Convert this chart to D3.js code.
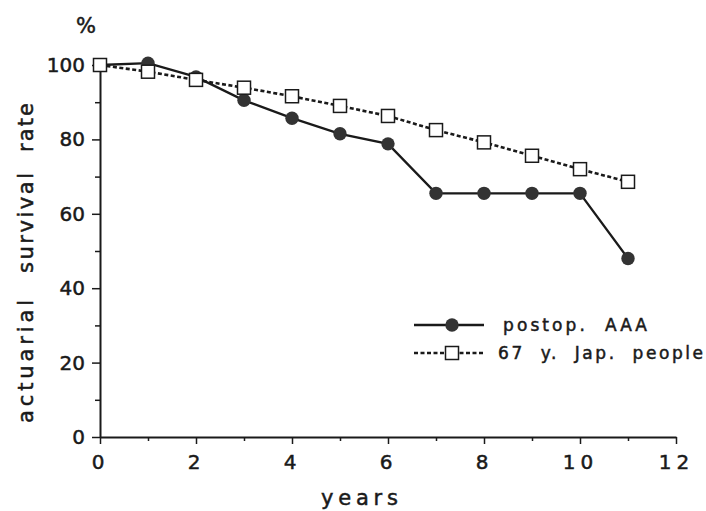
<!DOCTYPE html>
<html>
<head>
<meta charset="utf-8">
<script src="https://cdn.jsdelivr.net/npm/d3@7"></script>
<style>
  html, body { margin: 0; padding: 0; background: #fff; }
  svg { display: block; font-family: "DejaVu Sans", "Liberation Sans", Arial, sans-serif; }
  svg text { stroke: #1a1a1a; stroke-width: 0.5px; }
</style>
</head>
<body>
<svg id="chart" width="706" height="511"></svg>
<script>
// data
const years = [0, 1, 2, 3, 4, 5, 6, 7, 8, 9, 10, 11];
const postopAAA = [100, 100.5, 96.8, 90.5, 85.7, 81.5, 78.8, 65.5, 65.5, 65.5, 65.5, 48];
const japPeople = [100, 98.2, 96, 93.9, 91.6, 89, 86.3, 82.5, 79.2, 75.6, 72, 68.6];
const xTicks = [0, 2, 4, 6, 8, 10, 12];
const xMinor = [1, 3, 5, 7, 9, 11];
const yTicks = [0, 20, 40, 60, 80, 100];
const yMinor = [10, 30, 50, 70, 90];
const yTitleWords = ["actuarial", "survival", "rate"];
const legendLabels = ["postop.  AAA", "67  y.  Jap.  people"];

const svg = d3.select("#chart");
const ink = "#1a1a1a";
const font = "'DejaVu Sans', 'Liberation Sans', Arial, sans-serif";

// scales
const x = d3.scaleLinear().domain([0, 12]).range([100, 676]);
const y = d3.scaleLinear().domain([0, 100]).range([437, 65]);

// axes
const yAxis = svg.append("g")
  .attr("transform", `translate(${x(0)},0)`)
  .call(d3.axisLeft(y).tickValues(yTicks).tickSize(8).tickPadding(7).tickSizeOuter(0));
svg.append("g")
  .attr("transform", `translate(${x(0)},0)`)
  .call(d3.axisLeft(y).tickValues(yMinor).tickSize(5).tickFormat("").tickSizeOuter(0))
  .select(".domain").remove();

const xAxis = svg.append("g")
  .attr("transform", `translate(0,${y(0)})`)
  .call(d3.axisBottom(x).tickValues(xTicks).tickSize(7).tickPadding(10).tickSizeOuter(0));
svg.append("g")
  .attr("transform", `translate(0,${y(0)})`)
  .call(d3.axisBottom(x).tickValues(xMinor).tickSize(4).tickFormat("").tickSizeOuter(0))
  .select(".domain").remove();

svg.selectAll(".domain").attr("stroke", ink).attr("stroke-width", 2);
svg.selectAll(".tick line").attr("stroke", ink).attr("stroke-width", 1.5);
yAxis.selectAll(".tick text").attr("font-size", 20).attr("fill", ink)
  .attr("font-family", font);
xAxis.selectAll(".tick text").attr("font-size", 20).attr("fill", ink)
  .attr("letter-spacing", "5px")
  .attr("dy", "0.75em")
  .attr("font-family", font);

// axis titles
svg.append("text")
  .attr("x", 86).attr("y", 33)
  .attr("text-anchor", "middle")
  .attr("font-size", 21).attr("fill", ink)
  .text("%");

svg.append("text")
  .attr("x", 359.5).attr("y", 505)
  .attr("text-anchor", "middle")
  .attr("textLength", 77).attr("lengthAdjust", "spacing")
  .attr("font-size", 21).attr("fill", ink)
  .text("years");

// y title: three words spread along the axis
const wordSpan = [[300, 423], [173, 273], [103, 152]];
svg.selectAll(".ytitle")
  .data(yTitleWords)
  .enter()
  .append("text")
  .attr("class", "ytitle")
  .attr("transform", (d, i) => `translate(33,${(wordSpan[i][0] + wordSpan[i][1]) / 2}) rotate(-90)`)
  .attr("text-anchor", "middle")
  .attr("textLength", (d, i) => wordSpan[i][1] - wordSpan[i][0])
  .attr("lengthAdjust", "spacing")
  .attr("font-size", 21).attr("fill", ink)
  .text(d => d);

// lines
const line = d3.line()
  .x((d, i) => x(years[i]))
  .y(d => y(d));

svg.append("path")
  .datum(postopAAA)
  .attr("fill", "none")
  .attr("stroke", ink)
  .attr("stroke-width", 2.3)
  .attr("d", line);

svg.append("path")
  .datum(japPeople)
  .attr("fill", "none")
  .attr("stroke", ink)
  .attr("stroke-width", 2.6)
  .attr("stroke-dasharray", "4,2.5")
  .attr("d", line);

// markers
svg.selectAll(".dot")
  .data(postopAAA)
  .enter()
  .append("circle")
  .attr("class", "dot")
  .attr("cx", (d, i) => x(years[i]))
  .attr("cy", d => y(d))
  .attr("r", 6.7)
  .attr("fill", "#333");

const sq = 13;
svg.selectAll(".sq")
  .data(japPeople)
  .enter()
  .append("rect")
  .attr("class", "sq")
  .attr("x", (d, i) => x(years[i]) - sq / 2)
  .attr("y", d => y(d) - sq / 2)
  .attr("width", sq).attr("height", sq)
  .attr("fill", "#fff")
  .attr("stroke", ink)
  .attr("stroke-width", 1.5);

// legend
const legend = svg.append("g").attr("transform", "translate(414,325)");
legend.append("line")
  .attr("x1", 0).attr("x2", 70).attr("y1", 0).attr("y2", 0)
  .attr("stroke", ink).attr("stroke-width", 2.5);
legend.append("circle")
  .attr("cx", 38).attr("cy", 0).attr("r", 6.7).attr("fill", "#333");
legend.append("text")
  .attr("x", 89).attr("y", 6)
  .attr("textLength", 144).attr("lengthAdjust", "spacing")
  .attr("font-size", 17).attr("fill", ink)
  .attr("xml:space", "preserve")
  .text(legendLabels[0]);

legend.append("line")
  .attr("x1", 0).attr("x2", 70).attr("y1", 28).attr("y2", 28)
  .attr("stroke", ink).attr("stroke-width", 2.5)
  .attr("stroke-dasharray", "4,2.5");
legend.append("rect")
  .attr("x", 38 - sq / 2).attr("y", 28 - sq / 2)
  .attr("width", sq).attr("height", sq)
  .attr("fill", "#fff").attr("stroke", ink).attr("stroke-width", 1.5);
legend.append("text")
  .attr("x", 84).attr("y", 34)
  .attr("textLength", 205).attr("lengthAdjust", "spacing")
  .attr("font-size", 17).attr("fill", ink)
  .attr("xml:space", "preserve")
  .text(legendLabels[1]);
</script>
</body>
</html>
